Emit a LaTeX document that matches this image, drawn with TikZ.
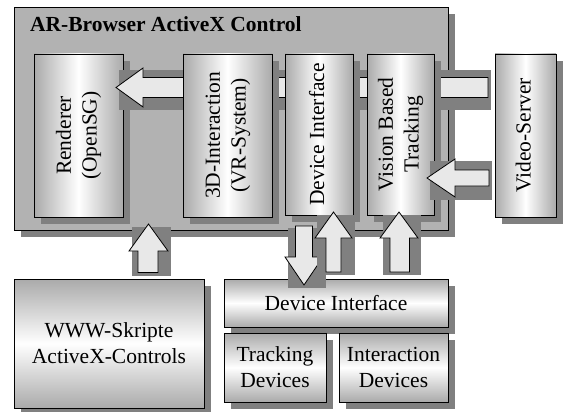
\documentclass[tikz,border=0pt]{standalone}
\usepackage{fontspec}
\setmainfont{Liberation Serif}
\usepackage{graphicx}
\usetikzlibrary{shadows}
\definecolor{outerg}{RGB}{178,178,178}
\definecolor{shg}{RGB}{128,128,128}
\definecolor{edgeg}{RGB}{170,170,170}
\definecolor{arrg}{RGB}{232,232,232}
\newcommand\vt[1]{\rotatebox{90}{\begin{tabular}{@{}c@{}}#1\end{tabular}}}
\begin{document}
\begin{tikzpicture}[x=1pt,y=-1pt,
  shd/.style={drop shadow={shadow xshift=7pt,shadow yshift=-7pt,opacity=1,fill=shg}},
  boxv/.style={draw=black,line width=0.8pt,inner sep=0pt,left color=edgeg,right color=edgeg,middle color=white,shd},
  boxh/.style={draw=black,line width=0.8pt,inner sep=0pt,top color=edgeg,bottom color=edgeg,middle color=white,shd,align=center},
  blk/.style={draw=black,line width=0.8pt,fill=arrg,line join=miter},
  every node/.style={font=\fontsize{21.5}{25.8}\selectfont}
]
\useasboundingbox (0,0) rectangle (565,412);
% outer control
\node[draw=black,line width=0.8pt,fill=outerg,shd,inner sep=0pt,minimum width=434,minimum height=223] (outer) at (231,118.5) {};
\node[anchor=base west,inner sep=0pt,font=\fontsize{21.5}{25.8}\selectfont\bfseries] (title) at (30,32) {AR-Browser ActiveX Control};
% renderer
\node[boxv,minimum width=89,minimum height=163] (rend) at (78.5,135.5) {\vt{Renderer\\(OpenSG)}};
% big arrow video -> renderer
\fill[shg] (118.5,70) rectangle (490.5,109.5);
\draw[blk] (116,87.5) -- (143,68) -- (143,77.5) -- (488,77.5) -- (488,97.5) -- (143,97.5) -- (143,107) -- cycle;
% inner boxes
\node[boxv,minimum width=89,minimum height=163] (vr) at (227.5,135.5) {\vt{3D-Interaction\\(VR-System)}};
\node[boxv,minimum width=68,minimum height=161] (devif) at (319,134.5) {\vt{Device Interface}};
\node[boxv,minimum width=67,minimum height=161] (vbt) at (400.5,134.5) {\vt{Vision Based\\Tracking}};
\node[boxv,minimum width=61,minimum height=163] (video) at (525.5,135.5) {\vt{Video-Server}};
% arrow video -> tracking
\fill[shg] (429.5,161) rectangle (491.5,199.5);
\draw[blk] (427,178) -- (455,159) -- (455,170) -- (489,170) -- (489,186) -- (455,186) -- (455,197) -- cycle;
% bottom boxes
\node[boxh,minimum width=190,minimum height=129] (www) at (109,343.5) {WWW-Skripte\\ActiveX-Controls};
\node[boxh,minimum width=224,minimum height=48] (devif2) at (336,303) {Device Interface};
\node[boxh,minimum width=102,minimum height=69] (track) at (275,367.5) {Tracking\\Devices};
\node[boxh,minimum width=109,minimum height=69] (inter) at (393.5,367.5) {Interaction\\Devices};
% vertical arrows
\fill[shg] (131.5,227) rectangle (171,275.5);
\draw[blk] (148.5,224) -- (168,251) -- (158,251) -- (158,272.5) -- (138,272.5) -- (138,251) -- (129,251) -- cycle;
\fill[shg] (288,228) rectangle (326,288);
\draw[blk] (304,285) -- (323,257) -- (312.5,257) -- (312.5,226) -- (295.5,226) -- (295.5,257) -- (285,257) -- cycle;
\fill[shg] (317,214.5) rectangle (355,275);
\draw[blk] (333.5,212) -- (352,238) -- (341,238) -- (341,272) -- (326,272) -- (326,238) -- (315,238) -- cycle;
\fill[shg] (383,214.5) rectangle (421,275);
\draw[blk] (399,212) -- (418,238) -- (409.5,238) -- (409.5,272) -- (390,272) -- (390,238) -- (380,238) -- cycle;
\end{tikzpicture}
\end{document}
